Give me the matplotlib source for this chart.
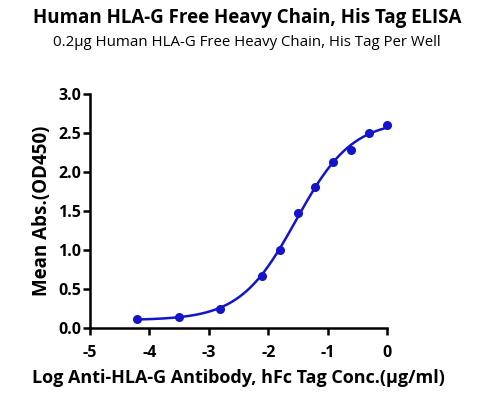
import matplotlib
matplotlib.use("Agg")
import matplotlib.pyplot as plt
import numpy as np

plt.rcParams['font.family'] = ['Open Sans', 'DejaVu Sans']
plt.rcParams['axes.unicode_minus'] = False

# log10 concentration (ug/ml) and mean OD450
log_conc = [-4.204, -3.505, -2.806, -2.107, -1.806, -1.505, -1.204, -0.903, -0.602, -0.301, 0.0]
od450 = [0.12, 0.14, 0.25, 0.67, 1.00, 1.47, 1.81, 2.13, 2.28, 2.50, 2.60]

title = "Human HLA-G Free Heavy Chain, His Tag ELISA"
subtitle = "0.2\u03bcg Human HLA-G Free Heavy Chain, His Tag Per Well"
xlabel = "Log Anti-HLA-G Antibody, hFc Tag Conc.(\u03bcg/ml)"
ylabel = "Mean Abs.(OD450)"

x = np.array(log_conc)
y = np.array(od450)


# simple 4PL fit: grid over logEC50 / hill, linear solve for bottom / top
def fit_4pl(x, y):
    best = None
    for c in np.linspace(-3, 0, 301):
        for h in np.linspace(0.3, 3, 271):
            s = 1.0 / (1.0 + 10 ** ((c - x) * h))
            A = np.column_stack([1 - s, s])
            coef, *_ = np.linalg.lstsq(A, y, rcond=None)
            err = np.sum((A @ coef - y) ** 2)
            if best is None or err < best[0]:
                best = (err, coef[0], coef[1], c, h)
    return best[1:]


bot, top, ec50, hill = fit_4pl(x, y)
xf = np.linspace(x.min(), x.max(), 300)
yf = bot + (top - bot) / (1 + 10 ** ((ec50 - xf) * hill))

fig = plt.figure(figsize=(4.94, 3.94), dpi=100)
ax = fig.add_axes([0.1822, 0.1675, 0.6012, 0.594])
col = '#1414c8'
ax.plot(xf, yf, color=col, lw=1.8, clip_on=False)
ax.plot(x, y, 'o', color=col, ms=5.5, clip_on=False)

ax.set_xlim(-5, 0)
ax.set_ylim(0, 3.0)
ax.set_xticks([-5, -4, -3, -2, -1, 0])
ax.set_yticks([0, 0.5, 1.0, 1.5, 2.0, 2.5, 3.0])
ax.set_yticklabels(['0.0', '0.5', '1.0', '1.5', '2.0', '2.5', '3.0'])
for s in ['top', 'right']:
    ax.spines[s].set_visible(False)
for s in ['left', 'bottom']:
    ax.spines[s].set_linewidth(1.8)
ax.tick_params(width=1.8, length=5, labelsize=11.5)
ax.tick_params(axis='x', pad=7)
ax.tick_params(axis='y', pad=1.5)
for lab in ax.get_xticklabels() + ax.get_yticklabels():
    lab.set_fontweight('bold')
ax.set_xlabel(xlabel, fontsize=13, fontweight='bold', labelpad=6)
ax.set_ylabel(ylabel, fontsize=13.5, fontweight='bold', labelpad=4)

fig.text(0.5, 0.954, title, ha='center', va='center', fontsize=13.5, fontweight='bold')
fig.text(0.5, 0.893, subtitle, ha='center', va='center', fontsize=10.8)

fig.savefig('out.png', dpi=100)
